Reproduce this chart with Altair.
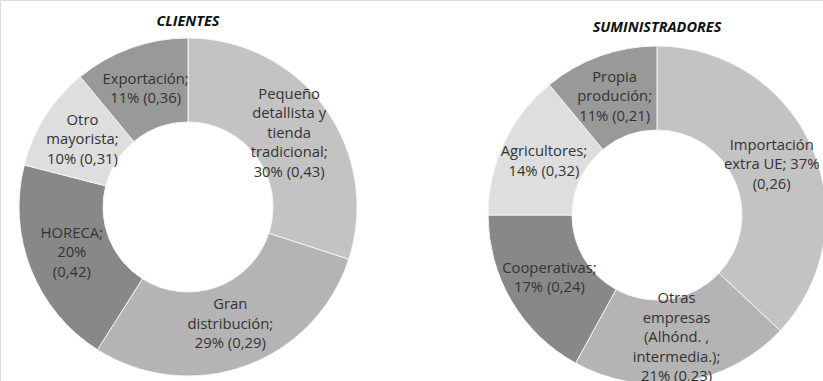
import altair as alt
import pandas as pd

# ---- data ----
left_title = ["CLIENTES"]
left_cats = ["Pequeño detallista y tienda tradicional", "Gran distribución", "HORECA",
             "Otro mayorista", "Exportación"]
left_pct = [30, 29, 20, 10, 11]
left_idx = ["0,43", "0,29", "0,42", "0,31", "0,36"]
left_lines = [
    ["Pequeño", "detallista y", "tienda", "tradicional;", "30% (0,43)"],
    ["Gran", "distribución;", "29% (0,29)"],
    ["HORECA;", "20%", "(0,42)"],
    ["Otro", "mayorista;", "10% (0,31)"],
    ["Exportación;", "11% (0,36)"],
]

right_title = ["SUMINISTRADORES"]
right_cats = ["Importación extra UE", "Otras empresas (Alhónd., intermedia.)", "Cooperativas",
              "Agricultores", "Propia produción"]
right_pct = [37, 21, 17, 14, 11]
right_idx = ["0,26", "0,23", "0,24", "0,32", "0,21"]
right_lines = [
    ["Importación", "extra UE; 37%", "(0,26)"],
    ["Otras", "empresas", "(Alhónd. ,", "intermedia.);", "21% (0,23)"],
    ["Cooperativas;", "17% (0,24)"],
    ["Agricultores;", "14% (0,32)"],
    ["Propia", "produción;", "11% (0,21)"],
]

# ---- styles ----
grays = ["#c3c3c3", "#b4b4b4", "#888888", "#dedede", "#999999"]
FONT = "Open Sans"
TXT = "#333333"
LH = 19.5


def donut(cats, pct, lines, title, cx, cy, ty):
    df = pd.DataFrame({
        "cat": cats,
        "pct": pct,
        "order": list(range(len(cats))),
        "label": ["\n".join(l) for l in lines],
        "n": [len(l) for l in lines],
    })
    base = alt.Chart(df)
    arcs = base.mark_arc(outerRadius=169, innerRadius=85, stroke="#f4f4f4", strokeWidth=1).encode(
        theta=alt.Theta("pct:Q", stack=True),
        order=alt.Order("order:Q", sort="ascending"),
        color=alt.Color("cat:N", scale=alt.Scale(domain=cats, range=grays), legend=None),
        x=alt.value(cx),
        y=alt.value(cy),
    )
    lab_base = base.transform_window(
        cum="sum(pct)", sort=[alt.SortField("order", order="ascending")]
    ).transform_joinaggregate(
        total="sum(pct)"
    ).transform_calculate(
        ang="2*PI*(datum.cum - datum.pct/2)/datum.total"
    )
    layers = [arcs]
    for n in sorted(set(df["n"])):
        layers.append(
            lab_base.transform_filter(alt.datum.n == n).mark_text(
                radius=125, lineBreak="\n", font=FONT, fontSize=14.8, lineHeight=LH,
                color=TXT, align="center", baseline="middle", dy=-(n - 1) * LH / 2
            ).encode(
                theta=alt.Theta("ang:Q", scale=None),
                text="label:N",
                x=alt.value(cx),
                y=alt.value(cy),
            )
        )
    tdf = pd.DataFrame({"t": title})
    ttl = alt.Chart(tdf).mark_text(font=FONT, fontSize=14.5, fontWeight="bold", fontStyle="italic",
                                   color="#111111").encode(
        text="t:N", x=alt.value(cx), y=alt.value(ty))
    layers.append(ttl)
    return layers


layers = donut(left_cats, left_pct, left_lines, left_title, 188, 207, 22) + \
    donut(right_cats, right_pct, right_lines, right_title, 657, 215, 28)

chart = alt.layer(*layers).resolve_scale(color="independent", theta="independent").properties(
    width=823, height=381, padding=0, autosize=alt.AutoSizeParams(type="none")
).configure_view(stroke=None).configure(background="white")

chart.save("out.html", embed_options={"renderer": "svg", "actions": False})
